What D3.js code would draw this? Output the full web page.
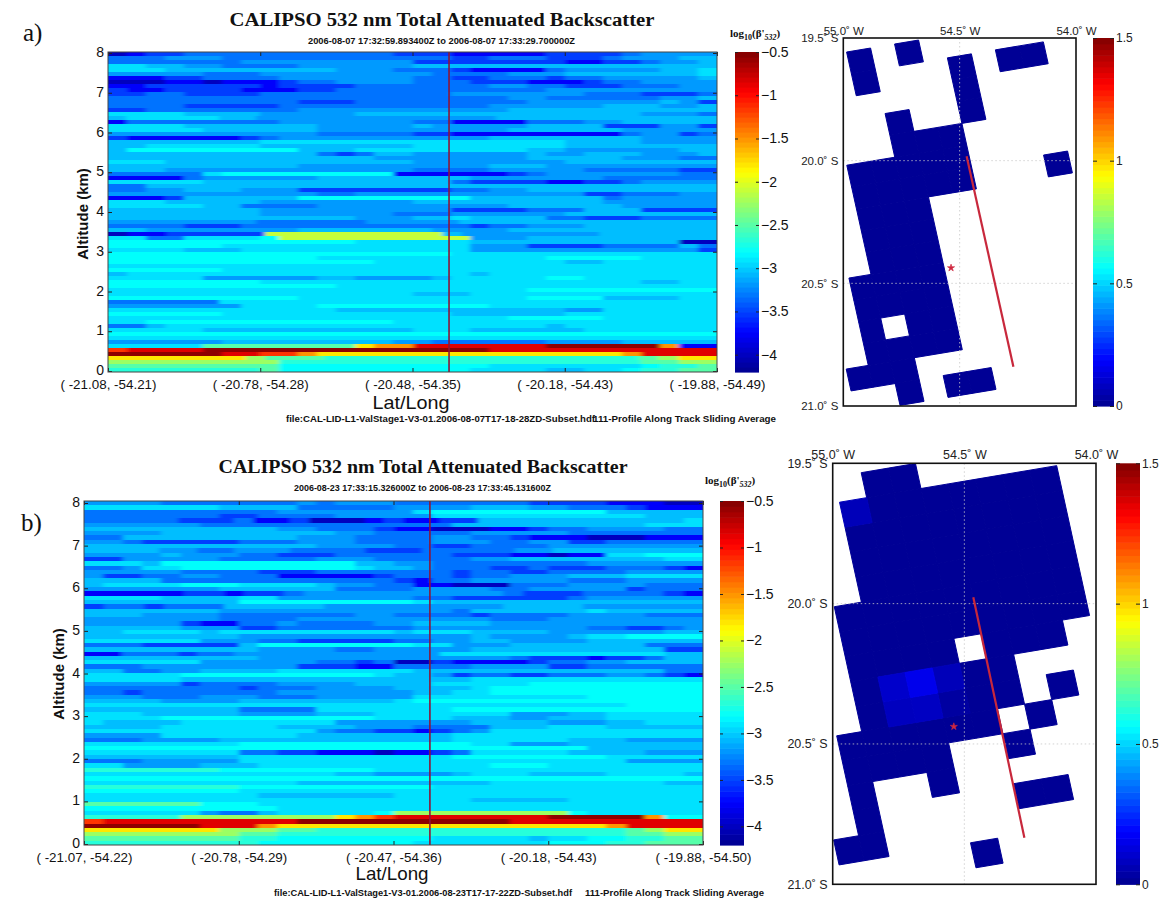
<!DOCTYPE html>
<html lang="en">
<head>
<meta charset="UTF-8">
<title>CALIPSO 532 nm Total Attenuated Backscatter</title>
<script src="https://d3js.org/d3.v7.min.js"></script>
<style>
    body { margin: 0; background: white; }
    svg { display: block; }
    text { font-family: "Liberation Sans", Arial, sans-serif; fill: #111; }
    .serif { font-family: "Liberation Serif", "Times New Roman", serif; }
    .tiny { font-size: 9px; font-weight: bold; }
    .tick text { fill: #111; }
    .curtain-x .tick text { font-size: 13.4px; }
    .curtain-y .tick text { font-size: 14px; }
    .bar-axis .tick text { font-size: 14px; }
    .map-axis-a .tick text { font-size: 11.5px; fill: #222; }
    .map-axis-b .tick text { font-size: 12.5px; fill: #222; }
    .map-bar-axis .tick text { font-size: 12px; fill: #222; }
</style>
</head>
<body>

<svg width="1166" height="900"></svg>

<script>
    // Level codes used in the curtain rows, value is log10(beta'532)
    const levelCodes = "abcdefghijklmnopq".split("");
    const levelValues = [-4.0, -3.75, -3.52, -3.32, -3.18, -3.05, -2.92, -2.8, -2.68, -2.5, -2.25, -2.1, -1.8, -1.5, -1.15, -0.85, -0.55];

    // One string per 0.1 km bin, top (8 km) first, left to right along track
    const rowsA = [
        "abccdddddddddddcccbbbbbccccdeeee", "dddeeeddddddddddddccdddcccdeeeff", "dddddddeeeeeeeeeccccccccbbccdeef",
        "ggffeeddddeeeeeeffffffffffffffff", "gggfffffffffeeedddcbbbbdeeeeeffg", "eeeeedddeeeeeeeeeddddeeefffffffg",
        "bbbccddddeeeeeeeddccdddcddeeeeef", "aaabbabbbcddeeeedddcccbbbcddeeee", "bbccccccbccccdddddddeeddcccdddee",
        "cbbccccbbbccdddddddddddeeeeeeeee", "ccddccccddddddddddeeeeeeedddcccd", "dddddddddddddddddddddeeddddddeef",
        "ddddddddddcccdddddddddeeeeeeefec", "ddddcccccdddddddddddeeeeeefffeef", "ccddddddddeeeeeeeeeeefffffffffff",
        "ggggffffeeeeefffffffffffffffeeed", "fgggggffeeeeeeeeeeeeeffffffffffff", "bddddddddeeeeeeeddbbbbdddeefffff",
        "ggggfffffffeeeeefeeeeeffffccceec", "gggggffffffeeeeeeeeeeffffffeeeee", "eeeeeeeeeeedddddccbbbbbbbbbdeecd",
        "cbbbbbbcdeeeeeeeeeeeffffffffeeee", "ffffffffggggggggggggggggffffeeee", "ffggggggffffffffggggggggffffffff",
        "fhhhhhhhhhfffgggggggggffeeeeeeff", "fffffffffffdcdffeeeeeefeefffeeef", "ffffffffffffffeeeeeeeefffffeeedd",
        "gggfffffffffffffeeeeeeeeffffffff", "ffffffffffeeeeeeeeeefffeeeeeeeee", "fffeeeeeeeeeeeeeddddeeeeedddddcc",
        "dddddghhhhhhhhhbbbbbbcdeeeeeeedd", "bbbbdeeeeeeffffffffeeeeeeedddddd", "gggggfffffffffffffdccccbbccdeeee",
        "ddffffffffffffffffffffffffffffff", "ddeefffeeeccccccccddeeffffffffff", "eeeeeeeeeeeddeeeeeeeeeeeeccdddee",
        "bbbcffffffhhhhhhhhhfffffffdeeeee", "gggfffffeeeeeeeeffffffffffeeeeee", "gggggffddddeeeeeeeeeeffffffeeeee",
        "ffffffffeeeeeeeeeeccccdddfffcccc", "ffffffffeeeeeeedddeeeeeeffffffff", "fffffffffffffeeeffgffffddcccdddd",
        "eeeeeeeeddddddeeeeeffffffffffffff", "ddddcccddddddddddddcddeeefffffff", "ffeeeeeeeefffffffeeeefffffffffff",
        "abbccccclllllllllfeeeeeeeffffff", "ggddgggghlllllllllleeeffffffffff", "hhhhhhhhhhhhhggggggfffffffffffaa",
        "hhhhhhgggggggggggggeeeccccddddfd", "ggggfffggggggggggggeeeeeeeeeeeec", "hhhhhhhhhhhhhhhhhhgggggggggggggg",
        "hhhhhhhhhhhgggggggggggghhhhhgggg", "hhhhhhhhhhhhhhggggggggggffgggggg", "gggggggggggggggggggggggggggggggg",
        "hhhhhhgggggggggggggggggggggggggg", "fggggggggggggggggggfgggggggggggg", "gggggeeeeeeffeeeefggggghhggggggg",
        "hhhhhhhhggggggggggggggggggggffgg", "hhhhhhhhhhhhgggggggggggggggggggg", "gggggggggggggggggggggghhhhhhhhhh",
        "ggggggggggggggggfffggggggggggggg", "hhhhhhhhhhgggggggggggghhhhffffgg", "ddddddggggggggggggggggggggggggggg",
        "eeeeeeegggghhhhhhhhhgggggggggggg", "ggggggggggggffffffffffffeegggggg", "hhhhhhggggggggggggffffffgggggggg",
        "ggggggggggggggggggggghhhhhgggggg", "gghhhhhhhhhhhhhggggggggggggggggg", "ddfggggggggggggggggggggfgggggggg",
        "gggggfffffffffffgggffffffggggggg", "hhhhhhhhhhhhhhhhhhhhhhhhhhhhhhhh", "gggggggggggggggggggggggggggggggg",
        "eeeeeefffffffffeeddddddeeeefffff", "gggggjjjjjjjjmnnpppppppqqqqqqnbb", "oppppqqqqqqqqqqqqqqqpppppppppppp",
        "qqqqqqppoonmmmmmmmmmmmmmmmmnpppp", "mmmmmmmkjjjiiiiiiiiiiiiiiiijkmm", "kkkkkkkkkiiiiiiiiiiiiiiiiiiijjkk",
        "jjjjjjjjjhhhhhhhhhhhgggggggghiij", "iiiiiiiijhhhhhhhhhhggggffgghiijj"
    ];

    const rowsB = [
        "eeeedddddddedeeedddddddccccbbbaa", "gggggggffffdddddeeeefffeedddcbbb", "ddddddddddeeeeeeeghhhhhhhhhfffff",
        "dddddddccddddeeeeegggggggggggfff", "dddddcccdbbcaaabcbbccfffffffffffg", "eeeeeedddddddddddddffffffffffggg",
        "ffffffffffeedddcbbaaabbcddeeeedd", "eeeefffffffffeedddddeeeeeddddddd", "ddfffffffffeeeddddeeddcbbbaaabbb",
        "eedcccccdddeeeddddeeeddeeccddddd", "ffffffffffffeeeeddccddddeeeeeeee", "ffffeeddeeeddddcccdddddeeffffffff",
        "eeeefeeeddcccddddddcccbbabbgghhh", "cceeeeedddddeeedddddeeffffffffgg", "gggfhhhhhhhhhhffeeddddddddeeeeee",
        "ddegghhhhhhhhhgffedddccdcccdddcb", "eeeeeddddcccdddddddcddccddddeeee", "eccddeedddbbbbbcdddcddeeefffgggg",
        "ffffddddddddddddcbddeeeeedddeeee", "fgggghhhggggfeeddbbaaadddeeeeddd", "eeeeeeeffffffddddeeeeddeeeeecddd",
        "bbbbbccbccdeeeeeeeeeedcccddddcb", "ggggffffggeeeeeeeddccccccdeeeeee", "ffffffffhhhhhhhhhgffffffffffffff",
        "cddcdddfffffeeeeeeeeeffffeeeeee", "fffffffeeeeeeeeeeeedffffffgfffff", "fffeeeedddddddeeddddcddddeeeeddd",
        "eeeeeeeddddeeeeeeeeeedddeeeeeeee", "eeeeecbbddeddddeeffffeeeeeeeeeee", "fffffeeeccdddddddeeeeeeeeeddccde",
        "ffggggfgggggggggfgggffffeeeeeeff", "ffffffffeeeeeeeeeeeefeeeefgghhhh", "ggggggeeeddcccccddeeffeeeeffffff",
        "dddcccccfhhhhhhhhggeeefffffffddd", "fffffffffeeeeddeeeeeffffffffffcc", "bbdddcddeeeeeeeeeeeggggggggggggff",
        "fffffffffeeeeeeeeeeeeedcccbccdff", "ggggggeeeeeeddcdaacbbbbcddeeffff", "dddeeeeeeeecccbbddddeeeeccdddddd",
        "ffddeeffffgggggggfffffffffffffdd", "ggggghhhhhhhhhhgffecddccdddeedcb", "gggggfffffffffffffffgggggggggggg",
        "eeeeecddddeeeeffffggggghhhhhhhhh", "ddddddddcdddeeeeffffghhhhhhhhhhh", "ddcdddddddeeeeeeeffgghhhhhhhhhhh",
        "eeedddeeedddeeeeeggggggggghhhhhh", "ffffeeeeffffffffghhhhhhhhhhhhhhh", "gggggggggggggggggggggggggggghhhh",
        "ffffffffddddggggggghhhhhhhhhhhhh", "gggfffffeeeefffgggggggeeeffggggg", "gggghhhhhhhhhhhggggfffeefffggggg",
        "gffffggggggggeeeeeeeffffeeeffggg", "ffffggggggffffeeeddddfffgggfffff", "ggggggggggggeddccbcdeggggggggggg",
        "eeeegggggggffffffffggggggggggggg", "dddeeeeffffffffffffggggggfffeeee", "gggggggghhhhhhhhhhhhggeeefffffff",
        "hhhhhhhhhhhhhhhhhhhhhhhhhhffffff", "ggggggggddccbbbabbcdgggggffffeee", "ffffffffggggggggggghhhhhhhhggggg",
        "dddeeeeeggggggggggggggggggggeeee", "ggeeeefffgggggggggggghhhgggggggg", "iiiiiiihhhhhhhhggggggggggggggggg",
        "gggggggggggggffeeeefgggffffggggf", "hhhhhhhhhhhhhhhhhhhhhhhhhhhhhhhh", "gggggggggggffffffffffgggggggggff",
        "iiiiiiiihhhhhhhhhhgggggggggggggg", "hhhhhhhhgggggggggggggggggggggggg", "gggggggggfffffffgggggggggggggggg",
        "ggggggggggggggggggggfffffggggggg", "jjjjjjhhhggggggggggggggggggggggg", "hhhhhhhhhhgggggggggggggggggggggg",
        "ggggggeddfggggghkkkkkkkkkhgggggg", "iiiiikkkkkkkkmnoppppppppqqqqqnhh", "oppppppppppqqqqqqqqqqqpppppppppp",
        "qqqqqqpppnmmmmmmmmmmmmmmmmmnpppp", "mmmmmmmkkkjjiiiiiiiiiiiiiiiijkmm", "kkkkkkkkjjiiiiiiiiiiiiiiiiiijjkk",
        "jjjjjjjjiihhhhhhhhgggggfgghhiijj", "iiiiiiiiihhhhhhhhggggggghhhiijjj"
    ];

    const altitudeTicks = [0, 1, 2, 3, 4, 5, 6, 7, 8];
    const backscatterTicks = [-0.5, -1, -1.5, -2, -2.5, -3, -3.5, -4];
    const latLongLabelsA = ["( -21.08, -54.21)", "( -20.78, -54.28)", "( -20.48, -54.35)", "( -20.18, -54.43)", "( -19.88, -54.49)"];
    const latLongLabelsB = ["( -21.07, -54.22)", "( -20.78, -54.29)", "( -20.47, -54.36)", "( -20.18, -54.43)", "( -19.88, -54.50)"];
    const trackLatA = [-21.08, -19.88];
    const trackLatB = [-21.07, -19.88];
    const sectionLatA = -20.408;
    const sectionLatB = -20.405;

    // Map cells: [grid row, first column, last column] of the tilted satellite grid
    const cellRunsA = [
        [-5, 1, 1], [-5, 3, 3], [-4, 1, 1], [-4, 5, 5], [-4, 7, 8], [-3, 5, 5], [-2, 2, 2], [-2, 5, 5],
        [-1, 2, 4], [0, 0, 4], [1, 0, 4], [1, 8, 8], [2, 0, 2], [3, 0, 2], [4, 0, 2], [5, -1, 2], [6, -1, 2],
        [7, -1, -1], [7, 1, 2], [8, -1, 2], [9, -2, 0], [10, 0, 0], [10, 2, 3]
    ];
    const cellRunsB = [
        [-5, 2, 3], [-4, 1, 8], [-3, 1, 8], [-2, 1, 8], [-1, 1, 8], [0, 0, 8], [1, 0, 8], [2, 0, 3], [2, 5, 7],
        [3, 0, 5], [4, 0, 5], [4, 7, 7], [5, -1, 4], [5, 6, 6], [6, -1, 2], [6, 5, 5], [7, -1, -1], [7, 2, 2],
        [8, -1, -1], [8, 5, 6], [9, -2, -1], [10, 3, 3]
    ];
    const aodBackground = 0.01;
    // Cells in b) that stand out from the background: [row, column, value]
    const brightCellsB = [[-4, 1, 0.07], [3, 1, 0.1], [3, 2, 0.155], [3, 3, 0.07], [4, 1, 0.08], [4, 2, 0.085], [4, 3, 0.03]];
    const mapLonTicks = [-55, -54.5, -54];
    const mapLatTicks = [-19.5, -20, -20.5, -21];
    const aodTicks = [0, 0.5, 1, 1.5];
    const trackLineA = [[-54.47, -19.982], [-54.269, -20.84]];
    const trackLineB = [[-54.466, -19.977], [-54.272, -20.834]];
    const siteA = [-54.537, -20.437];
    const siteB = [-54.54, -20.438];

    // Grid geometry in degrees (same pixel size in both maps)
    const originA = [-54.985, -20.0185];
    const originB = [-54.994, -20.011];
    const colStep = [0.1031, 0.0163];
    const rowStep = [0.0208, -0.089];

    const svg = d3.select("svg");
    const defs = svg.append("defs");
    // Along-track smoothing like the sliding average in the source image
    defs.append("filter").attr("id", "soft").append("feGaussianBlur").attr("stdDeviation", "2.5 0.7");

    // MATLAB jet
    const jet = d3.scaleLinear()
        .domain([0, 0.125, 0.375, 0.625, 0.875, 1])
        .range(["#00008f", "#0000ff", "#00ffff", "#ffff00", "#ff0000", "#800000"])
        .clamp(true);
    const levelLookup = new Map(levelCodes.map((c, i) => [c, levelValues[i]]));

    function fixAxis(g, color) {
        g.selectAll(".domain").remove();
        g.selectAll(".tick line").attr("stroke", color);
    }

    function drawCurtain(o) {
        const g = svg.append("g");
        const x = d3.scaleLinear().domain(o.trackLat).range([o.left, o.right]);
        const y = d3.scaleLinear().domain([0, 8]).range([o.bottom - 1, o.top + o.topInset]);
        const rowY = d3.scaleLinear().domain([0, o.rows.length]).range([o.top, o.bottom]);
        const color = d3.scaleLinear().domain([-4.2, -0.5]).range([0, 1]);
        const latSpan = o.trackLat[1] - o.trackLat[0];

        const clipId = "clip" + o.id;
        defs.append("clipPath").attr("id", clipId).append("rect")
            .attr("x", o.left).attr("y", o.top)
            .attr("width", o.right - o.left).attr("height", o.bottom - o.top);

        const heat = g.append("g").attr("clip-path", `url(#${clipId})`)
            .append("g").attr("filter", "url(#soft)");
        o.rows.forEach((row, r) => {
            const cols = row.split("");
            const cellW = (o.right - o.left) / cols.length;
            // End cells run past the frame so the blur does not fade at the edges
            heat.selectAll(null)
                .data(cols)
                .join("rect")
                .attr("x", (d, i) => x(o.trackLat[0] + latSpan * i / cols.length) - (i === 0 ? 12 : 0))
                .attr("width", (d, i) => cellW + 1 + (i === 0 || i === cols.length - 1 ? 12 : 0))
                .attr("y", rowY(r))
                .attr("height", rowY(r + 1) - rowY(r) + 0.5)
                .attr("shape-rendering", "crispEdges")
                .attr("fill", d => jet(color(levelLookup.get(d))));
        });

        // Section marker
        g.append("line")
            .attr("x1", x(o.sectionLat)).attr("x2", x(o.sectionLat))
            .attr("y1", o.top).attr("y2", o.bottom)
            .attr("stroke", "#8c1538").attr("stroke-width", 1.6);

        // Axes, ticks point inward and are repeated on the far sides
        const xPoint = d3.scalePoint().domain(o.labels).range([o.left, o.right]);
        g.append("g").attr("class", "curtain-x")
            .attr("transform", `translate(0,${o.bottom})`)
            .call(d3.axisBottom(xPoint).tickSize(-4).tickPadding(7))
            .call(fixAxis, "#222");
        g.append("g").attr("transform", `translate(0,${o.top})`)
            .call(d3.axisTop(xPoint).tickSize(-4).tickFormat(""))
            .call(fixAxis, "#222");
        g.append("g").attr("class", "curtain-y")
            .attr("transform", `translate(${o.left},0)`)
            .call(d3.axisLeft(y).tickValues(altitudeTicks).tickFormat(d3.format("d")).tickSize(-4).tickPadding(4))
            .call(fixAxis, "#222")
            .call(a => a.selectAll(".tick text").attr("dy", "0.25em"));
        g.append("g").attr("transform", `translate(${o.right},0)`)
            .call(d3.axisRight(y).tickValues(altitudeTicks).tickFormat("").tickSize(-4))
            .call(fixAxis, "#222");
        g.append("rect")
            .attr("x", o.left).attr("y", o.top)
            .attr("width", o.right - o.left).attr("height", o.bottom - o.top)
            .attr("fill", "none").attr("stroke", "#444").attr("stroke-width", 1);

        g.append("text").attr("class", "serif")
            .attr("x", o.titleX).attr("y", o.titleY)
            .attr("text-anchor", "middle")
            .attr("font-size", 18).attr("font-weight", "bold")
            .attr("textLength", o.titleW).attr("lengthAdjust", "spacingAndGlyphs")
            .text("CALIPSO 532 nm Total Attenuated Backscatter");
        g.append("text").attr("class", "tiny")
            .attr("x", o.subX).attr("y", o.subY)
            .attr("textLength", o.subW).attr("lengthAdjust", "spacingAndGlyphs")
            .text(o.subtitle);
        g.append("text")
            .attr("transform", `translate(${o.yLabelX},${o.yLabelY}) rotate(-90)`)
            .attr("text-anchor", "middle")
            .attr("font-size", 15).attr("font-weight", "bold")
            .text("Altitude (km)");
        g.append("text")
            .attr("x", o.xLabelX).attr("y", o.xLabelY)
            .attr("text-anchor", "middle")
            .attr("font-size", 19)
            .attr("textLength", o.xLabelW).attr("lengthAdjust", "spacingAndGlyphs")
            .text("Lat/Long");
        g.append("text").attr("class", "tiny")
            .attr("x", o.fileX).attr("y", o.footY)
            .attr("textLength", o.fileW).attr("lengthAdjust", "spacingAndGlyphs")
            .text(o.file);
        g.append("text").attr("class", "tiny")
            .attr("x", o.profileX).attr("y", o.footY)
            .attr("textLength", o.profileW).attr("lengthAdjust", "spacingAndGlyphs")
            .text("111-Profile Along Track Sliding Average");

        // Colorbar
        const barY = d3.scaleLinear().domain([-4.2, -0.5]).range([o.bottom, o.top]);
        drawColorbar(g, barY, [-4.2, -0.5], o.barX, o.barW, backscatterTicks, d => d3.format(".1~f")(d), "bar-axis", 3);

        const unit = g.append("text").attr("class", "serif")
            .attr("x", o.unitX).attr("y", o.unitY)
            .attr("font-size", 11).attr("font-weight", "bold");
        unit.append("tspan").text("log");
        unit.append("tspan").attr("dy", 3).attr("font-size", 8).text("10");
        unit.append("tspan").attr("dy", -3).text("(β'");
        unit.append("tspan").attr("dy", 3).attr("font-size", 8).attr("font-style", "italic").text("532");
        unit.append("tspan").attr("dy", -3).text(")");
    }

    function drawColorbar(g, scale, domain, x0, w, ticks, fmt, cls, tickLen) {
        const steps = d3.range(64);
        const stepV = (domain[1] - domain[0]) / 64;
        g.append("g").selectAll("rect")
            .data(steps)
            .join("rect")
            .attr("x", x0).attr("width", w)
            .attr("y", i => scale(domain[0] + (i + 1) * stepV))
            .attr("height", i => scale(domain[0] + i * stepV) - scale(domain[0] + (i + 1) * stepV) + 0.6)
            .attr("fill", i => jet((i + 0.5) / 64));
        g.append("g").attr("class", cls)
            .attr("transform", `translate(${x0 + w},0)`)
            .call(d3.axisRight(scale).tickValues(ticks).tickFormat(fmt).tickSize(-tickLen).tickPadding(2))
            .call(fixAxis, "#222");
        g.append("g")
            .attr("transform", `translate(${x0},0)`)
            .call(d3.axisLeft(scale).tickValues(ticks).tickFormat("").tickSize(-tickLen))
            .call(fixAxis, "#222");
    }

    function drawMap(o) {
        const g = svg.append("g");
        const lon = d3.scaleLinear().domain([-55, -54]).range([o.left, o.right]);
        const lat = d3.scaleLinear().domain([-19.5, -21]).range([o.top, o.bottom]);
        const aod = d3.scaleLinear().domain([0, 1.5]).range([0, 1]);

        // Columns left of the block are a little narrower in the picture
        const colEdge = i => i < 0 ? i * 0.92 : i;
        const corner = (i, j) => [
            o.origin[0] + colEdge(i) * colStep[0] + j * rowStep[0],
            o.origin[1] + colEdge(i) * colStep[1] + j * rowStep[1]
        ];
        const outline = d3.line().x(d => lon(d[0])).y(d => lat(d[1]));

        const cells = [];
        o.runs.forEach(([row, from, to]) => {
            d3.range(from, to + 1).forEach(col => {
                const bright = o.bright.find(b => b[0] === row && b[1] === col);
                cells.push({ row, col, value: bright ? bright[2] : aodBackground });
            });
        });
        cells.sort((a, b) => a.value - b.value);

        const clipId = "mapclip" + o.id;
        defs.append("clipPath").attr("id", clipId).append("rect")
            .attr("x", o.left).attr("y", o.top)
            .attr("width", o.right - o.left).attr("height", o.bottom - o.top);

        g.append("g").attr("clip-path", `url(#${clipId})`).selectAll("path")
            .data(cells)
            .join("path")
            .attr("d", d => outline([
                corner(d.col, d.row), corner(d.col + 1, d.row),
                corner(d.col + 1, d.row + 1), corner(d.col, d.row + 1)
            ]) + "Z")
            .attr("fill", d => jet(aod(d.value)))
            .attr("stroke", d => jet(aod(d.value)))
            .attr("stroke-width", 1);

        // Dotted graticule
        g.append("g").selectAll("line")
            .data([-20, -20.5])
            .join("line")
            .attr("x1", o.left).attr("x2", o.right)
            .attr("y1", d => lat(d)).attr("y2", d => lat(d))
            .attr("stroke", "#c8c8c8").attr("stroke-width", 0.8).attr("stroke-dasharray", "1.5,2.5");
        g.append("line")
            .attr("x1", lon(-54.5)).attr("x2", lon(-54.5))
            .attr("y1", o.top).attr("y2", o.bottom)
            .attr("stroke", "#c8c8c8").attr("stroke-width", 0.8).attr("stroke-dasharray", "1.5,2.5");

        // Track and site
        g.append("path")
            .attr("d", outline(o.track))
            .attr("fill", "none").attr("stroke", "#c8283c").attr("stroke-width", 2.2);
        g.append("path")
            .attr("d", d3.symbol(d3.symbolStar, 16)())
            .attr("transform", `translate(${lon(o.site[0])},${lat(o.site[1])})`)
            .attr("fill", "#d02840").attr("stroke", "#d02840").attr("stroke-width", 0.6);

        g.append("rect")
            .attr("x", o.left).attr("y", o.top)
            .attr("width", o.right - o.left).attr("height", o.bottom - o.top)
            .attr("fill", "none").attr("stroke", "#111").attr("stroke-width", 1.6);

        g.append("g").attr("class", "map-axis-" + o.id)
            .attr("transform", `translate(0,${o.top})`)
            .call(d3.axisTop(lon).tickValues(mapLonTicks).tickSize(0).tickPadding(o.id === "b" ? 4 : 3)
                .tickFormat(d => d3.format(".1f")(-d) + "˚ W"))
            .call(fixAxis, "#222");
        g.append("g").attr("class", "map-axis-" + o.id)
            .attr("transform", `translate(${o.left},0)`)
            .call(d3.axisLeft(lat).tickValues(mapLatTicks).tickSize(0).tickPadding(5)
                .tickFormat(d => d3.format(".1f")(-d) + "˚ S"))
            .call(fixAxis, "#222");

        const barY = d3.scaleLinear().domain([0, 1.5]).range([o.bottom, o.top]);
        drawColorbar(g, barY, [0, 1.5], o.barX, o.barW, aodTicks, d3.format(".1~f"), "map-bar-axis", 4);
    }

    drawCurtain({
        id: "a", rows: rowsA, labels: latLongLabelsA, trackLat: trackLatA, sectionLat: sectionLatA,
        left: 108, right: 717, top: 52, bottom: 372, topInset: 1,
        titleX: 442, titleY: 26, titleW: 425,
        subtitle: "2006-08-07 17:32:59.893400Z to 2006-08-07 17:33:29.700000Z", subX: 308, subY: 44, subW: 267,
        yLabelX: 88, yLabelY: 214, xLabelX: 411, xLabelY: 409, xLabelW: 77,
        file: "file:CAL-LID-L1-ValStage1-V3-01.2006-08-07T17-18-28ZD-Subset.hdf", fileX: 286, fileW: 309,
        profileX: 593, profileW: 183, footY: 422,
        barX: 735, barW: 24, unitX: 730, unitY: 37
    });
    drawCurtain({
        id: "b", rows: rowsB, labels: latLongLabelsB, trackLat: trackLatB, sectionLat: sectionLatB,
        left: 84, right: 703, top: 501, bottom: 845, topInset: 2,
        titleX: 423, titleY: 473, titleW: 409,
        subtitle: "2006-08-23 17:33:15.326000Z to 2006-08-23 17:33:45.131600Z", subX: 294, subY: 491, subW: 257,
        yLabelX: 64, yLabelY: 674, xLabelX: 392, xLabelY: 880, xLabelW: 73,
        file: "file:CAL-LID-L1-ValStage1-V3-01.2006-08-23T17-17-22ZD-Subset.hdf", fileX: 274, fileW: 298,
        profileX: 585, profileW: 179, footY: 896,
        barX: 720, barW: 24, unitX: 705, unitY: 484
    });

    drawMap({
        id: "a", runs: cellRunsA, bright: [], origin: originA, track: trackLineA, site: siteA,
        left: 843.3, right: 1076, top: 38, bottom: 406, barX: 1093, barW: 21
    });
    drawMap({
        id: "b", runs: cellRunsB, bright: brightCellsB, origin: originB, track: trackLineB, site: siteB,
        left: 832.7, right: 1096, top: 463.3, bottom: 884.3, barX: 1116, barW: 24
    });

    // Panel letters
    svg.selectAll(".panel-letter")
        .data([["a)", 23, 41], ["b)", 21, 531]])
        .join("text")
        .attr("class", "serif panel-letter")
        .attr("x", d => d[1]).attr("y", d => d[2])
        .attr("font-size", 25)
        .text(d => d[0]);
</script>

</body>
</html>
